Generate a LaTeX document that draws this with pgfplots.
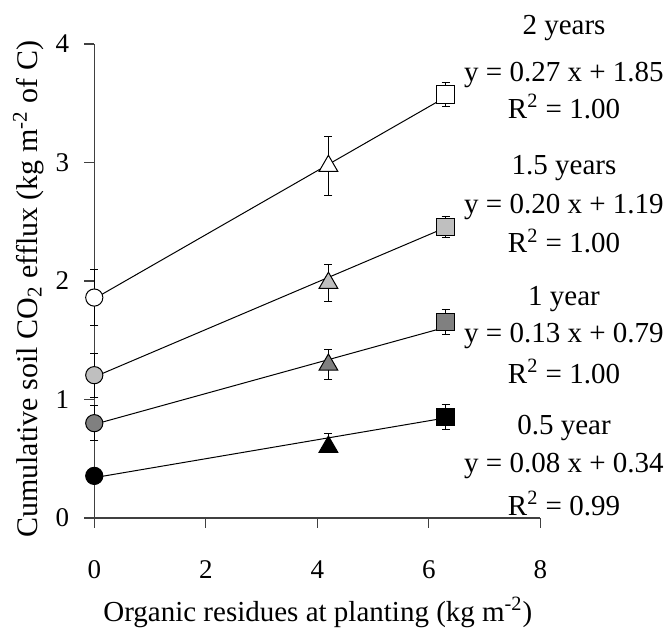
\documentclass[border=0pt]{standalone}
\usepackage{fontspec}
\setmainfont{Liberation Serif}
\usepackage{pgfplots}
\pgfplotsset{compat=1.18}
\definecolor{g1}{gray}{0.50}
\definecolor{g15}{gray}{0.75}
\newcommand{\fs}{\fontsize{14.5}{17}\selectfont}
\newcommand{\ft}{\fontsize{13.5}{16}\selectfont}
\newcommand{\fy}{\fontsize{15}{18}\selectfont}
\begin{document}
\begin{tikzpicture}
\begin{axis}[
  scale only axis, width=223pt, height=237pt,
  xmin=0, xmax=8, ymin=0, ymax=4,
  axis lines=left, axis line style={-, black!75, line width=0.6pt},
  xtick={0,2,4,6,8}, ytick={0,1,2,3,4},
  tick align=outside, major tick length=5pt,
  tick style={black!75, line width=0.6pt},
  clip=false,
  /pgf/number format/assume math mode=true,
  tick label style={font=\ft},
  xticklabel shift=13pt, yticklabel shift=4pt,
  error bars/y dir=both, error bars/y explicit,
  error bars/error bar style={black, line width=0.5pt},
  error bars/error mark options={rotate=90, mark size=2pt, black, line width=0.5pt},
  every axis plot/.append style={line width=0.5pt},
]
% regression lines
\addplot[black, no marks] coordinates {(0,0.34) (6.3,0.844)};
\addplot[black, no marks] coordinates {(0,0.79) (6.3,1.609)};
\addplot[black, no marks] coordinates {(0,1.19) (6.3,2.450)};
\addplot[black, no marks] coordinates {(0,1.85) (6.3,3.551)};
% 0.5 year
\addplot[only marks, mark=*, mark size=4.3pt, mark options={draw=black, fill=black}] coordinates {(0,0.355) +- (0,0.03)};
\addplot[only marks, mark=triangle*, mark size=5.4pt, mark options={draw=black, fill=black}] coordinates {(4.2,0.60) += (0,0.11) -= (0,0.04)};
\addplot[only marks, mark=square*, mark size=4.3pt, mark options={draw=black, fill=black}] coordinates {(6.3,0.853) +- (0,0.105)};
% 1 year
\addplot[only marks, mark=*, mark size=4.3pt, mark options={draw=black, fill=g1}] coordinates {(0,0.80) +- (0,0.145)};
\addplot[only marks, mark=triangle*, mark size=5.4pt, mark options={draw=black, fill=g1}] coordinates {(4.2,1.293) +- (0,0.125)};
\addplot[only marks, mark=square*, mark size=4.3pt, mark options={draw=black, fill=g1}] coordinates {(6.3,1.653) +- (0,0.105)};
% 1.5 years
\addplot[only marks, mark=*, mark size=4.3pt, mark options={draw=black, fill=g15}] coordinates {(0,1.205) +- (0,0.185)};
\addplot[only marks, mark=triangle*, mark size=5.4pt, mark options={draw=black, fill=g15}] coordinates {(4.2,1.983) +- (0,0.16)};
\addplot[only marks, mark=square*, mark size=4.3pt, mark options={draw=black, fill=g15}] coordinates {(6.3,2.458) +- (0,0.09)};
% 2 years
\addplot[only marks, mark=*, mark size=4.3pt, mark options={draw=black, fill=white}] coordinates {(0,1.86) +- (0,0.24)};
\addplot[only marks, mark=triangle*, mark size=5.4pt, mark options={draw=black, fill=white}] coordinates {(4.2,2.97) +- (0,0.245)};
\addplot[only marks, mark=square*, mark size=4.3pt, mark options={draw=black, fill=white}] coordinates {(6.3,3.573) +- (0,0.105)};
% annotations
\begin{scope}[every node/.style={font=\fs, anchor=base, inner sep=0pt}]
\node at (axis cs:8.425,4.076) {2 years};
\node at (axis cs:8.425,3.682) {y = 0.27 x + 1.85};
\node at (axis cs:8.425,3.373) {R\textsuperscript{2} = 1.00};
\node at (axis cs:8.425,2.895) {1.5 years};
\node at (axis cs:8.425,2.571) {y = 0.20 x + 1.19};
\node at (axis cs:8.425,2.236) {R\textsuperscript{2} = 1.00};
\node at (axis cs:8.425,1.797) {1 year};
\node at (axis cs:8.425,1.479) {y = 0.13 x + 0.79};
\node at (axis cs:8.425,1.137) {R\textsuperscript{2} = 1.00};
\node at (axis cs:8.425,0.706) {0.5 year};
\node at (axis cs:8.425,0.382) {y = 0.08 x + 0.34};
\node at (axis cs:8.425,0.025) {R\textsuperscript{2} = 0.99};
\node[rotate=90, font=\fy] at (axis cs:-1.02,1.93) {Cumulative soil CO\textsubscript{2} efflux (kg m\textsuperscript{-2} of C)};
\node at (axis cs:4.01,-0.873) {Organic residues at planting (kg m\textsuperscript{-2})};
\end{scope}
\coordinate (BBa) at (axis cs:-1.691,4.371);
\coordinate (BBb) at (axis cs:10.273,-0.928);
\end{axis}
\pgfresetboundingbox
\useasboundingbox (BBa) rectangle (BBb);
\end{tikzpicture}
\end{document}
